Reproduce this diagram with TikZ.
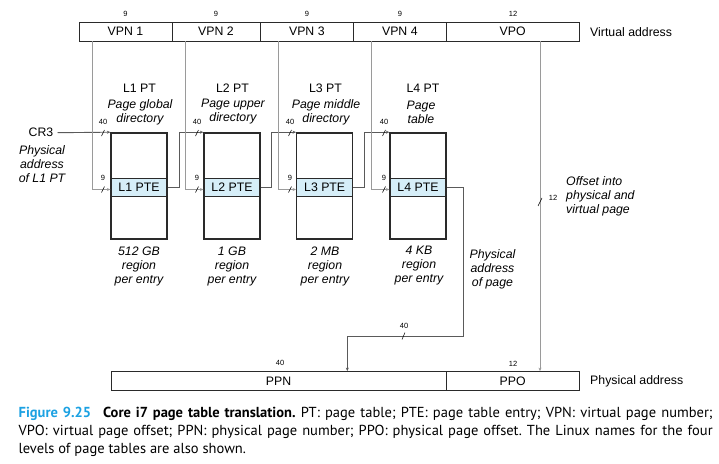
\documentclass[tikz,border=0pt]{standalone}
\usepackage{fontspec}
\setmainfont{Liberation Sans}
\newfontfamily\capfont{PT Sans}
\usetikzlibrary{arrows.meta,calc}
\definecolor{ptefill}{HTML}{D6EEF8}
\definecolor{figblue}{HTML}{1BA1E2}
\definecolor{lgray}{HTML}{9A9A9A}
\definecolor{dgray}{HTML}{5A5A5A}
\definecolor{boxline}{HTML}{2A2A2A}
\frenchspacing
\begin{document}
\begin{tikzpicture}[x=1pt,y=-1pt,
  field/.style={draw=boxline,line width=0.8pt,minimum height=19pt,inner sep=0pt,font=\fontsize{12.3}{14}\selectfont},
  ptbox/.style={draw=boxline,line width=1.3pt,minimum width=56pt,minimum height=106pt,inner sep=0pt},
  pte/.style={draw=boxline,line width=1.3pt,fill=ptefill,minimum width=56pt,minimum height=18.4pt,inner sep=0pt,font=\fontsize{12.3}{14}\selectfont},
  bits/.style={font=\fontsize{7.5}{8}\selectfont,inner sep=0pt},
  lbl/.style={font=\fontsize{12.3}{14}\selectfont,inner sep=0pt},
  it/.style={font=\fontsize{12.3}{14}\selectfont\itshape,align=center,inner sep=0pt},
  vline/.style={draw=lgray,line width=0.9pt,-{Stealth[length=3.5pt,width=3pt]}},
  cline/.style={draw=dgray,line width=0.9pt,-{Stealth[length=3.5pt,width=3pt]}},
  tick/.style={draw=black,line width=0.5pt},
  capt/.style={anchor=base west,inner sep=0pt,font=\capfont\fontsize{14.5}{18}\selectfont}
]
\path[use as bounding box] (0,0) rectangle (719,463);

% virtual address
\node[field,minimum width=93pt] (vpn1) at (125.5,31.5) {VPN 1};
\node[field,minimum width=88pt] (vpn2) at (216,31.5) {VPN 2};
\node[field,minimum width=93.7pt] (vpn3) at (306.85,31.5) {VPN 3};
\node[field,minimum width=92.3pt] (vpn4) at (399.85,31.5) {VPN 4};
\node[field,minimum width=133.3pt] (vpo) at (512.65,31.5) {VPO};
\node[bits] (b1) at (125.5,14) {9};
\node[bits] (b2) at (216,14) {9};
\node[bits] (b3) at (306.85,14) {9};
\node[bits] (b4) at (399.85,14) {9};
\node[bits] (b5) at (513,14) {12};
\node[lbl,anchor=west] (va) at (590,32) {Virtual address};

% page tables
\node[ptbox] (t1) at (139,185.85) {};
\node[ptbox] (t2) at (232,185.85) {};
\node[ptbox] (t3) at (324.7,185.85) {};
\node[ptbox] (t4) at (418,185.85) {};
\node[pte] (p1) at (139,187.5) {L1 PTE};
\node[pte] (p2) at (232,187.5) {L2 PTE};
\node[pte] (p3) at (324.7,187.5) {L3 PTE};
\node[pte] (p4) at (418,187.5) {L4 PTE};

\node[lbl] (h1) at (139.5,88) {L1 PT};
\node[lbl] (h2) at (232.5,88) {L2 PT};
\node[lbl] (h3) at (325.5,88) {L3 PT};
\node[lbl] (h4) at (423,88) {L4 PT};
\node[it] (d1) at (140,112) {Page global\\directory};
\node[it] (d2) at (233,112) {Page upper\\directory};
\node[it] (d3) at (326,112) {Page middle\\directory};
\node[it] (d4) at (421,112) {Page\\table};

\node[it] (r1) at (139,266) {512 GB\\region\\per entry};
\node[it] (r2) at (232,266) {1 GB\\region\\per entry};
\node[it] (r3) at (325,266) {2 MB\\region\\per entry};
\node[it] (r4) at (419,266) {4 KB\\region\\per entry};

\node[lbl,anchor=east] (cr3) at (53.5,132.7) {CR3};
\node[it] (cr3d) at (42,164) {Physical\\address\\of L1 PT};

\node[it] (pap) at (492.5,269) {Physical\\address\\of page};
\node[it,align=left,anchor=west] (off) at (566,196) {Offset into\\physical and\\virtual page};

% physical address
\node[field,minimum width=335pt] (ppn) at (278.5,381) {PPN};
\node[field,minimum width=133.3pt] (ppo) at (512.65,381) {PPO};
\node[bits] (b6) at (280,363) {40};
\node[bits] (b7) at (513,364) {12};
\node[lbl,anchor=west] (pa) at (590,381) {Physical address};

% connectors
\draw[cline] ([xshift=4pt]cr3.east) -- (t1.north west);
\draw[vline] ([xshift=14pt]vpn1.south west) |- ([yshift=-2pt]p1.west);
\draw[cline] (p1.east) -- ++(11.3,0) |- (t2.north west);
\draw[vline] ([xshift=13.7pt]vpn2.south west) |- ([yshift=-2pt]p2.west);
\draw[cline] (p2.east) -- ++(10.7,0) |- (t3.north west);
\draw[vline] ([xshift=18.7pt]vpn3.south west) |- ([yshift=-2pt]p3.west);
\draw[cline] (p3.east) -- ++(11.3,0) |- (t4.north west);
\draw[vline] ([xshift=18.3pt]vpn4.south west) |- ([yshift=-2pt]p4.west);
\draw[cline] (p4.east) -- ++(16.7,0) -- ++(0,148.5) -| ([xshift=68.8pt]ppn.north);
\draw[vline] ([xshift=27.35pt]vpo.south) -- ([xshift=27.35pt]ppo.north);

% bit-width ticks and labels
\foreach \x in {103,197,290,384}{
  \node[bits] at (\x,122) {40};
  \draw[tick] (\x-1.5,136) -- (\x+1.5,130);
  \node[bits] at (\x,178) {9};
  \draw[tick] (\x-1.5,192.5) -- (\x+1.5,186.5);
}
\node[bits] (b8) at (404,326) {40};
\draw[tick] (402,339.5) -- (405,332.5);
\draw[tick] (538,206) -- (542,198);
\node[bits] (b9) at (553,198) {12};

% caption
\node[capt] (c1) at (18.5,417) {\makebox[694pt][s]{\textcolor{figblue}{\textbf{Figure 9.25}}\hspace{12pt}\textbf{Core i7 page table translation.} PT: page table; PTE: page table entry; VPN: virtual page number;}};
\node[capt] (c2) at (18.5,435.5) {\makebox[694pt][s]{VPO: virtual page offset; PPN: physical page number; PPO: physical page offset. The Linux names for the four}};
\node[capt] (c3) at (18.5,453) {levels of page tables are also shown.};
\end{tikzpicture}
\end{document}
